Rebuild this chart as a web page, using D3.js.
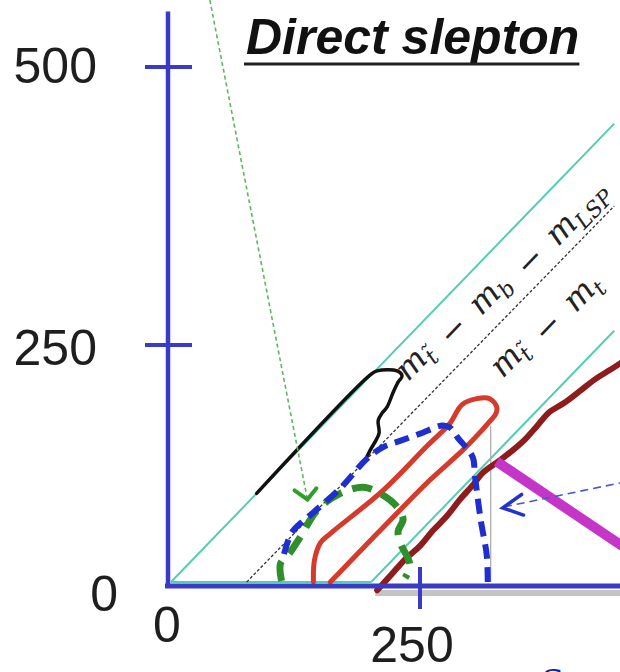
<!DOCTYPE html>
<html>
<head>
<meta charset="utf-8">
<script src="https://cdn.jsdelivr.net/npm/d3@7/dist/d3.min.js"></script>
<style>
  html, body { margin: 0; padding: 0; background: #fff; }
  svg { display: block; overflow: hidden; }
</style>
</head>
<body>
<svg id="chart" width="620" height="672"></svg>
<script>
// ---- axis ticks (stop mass on x, LSP mass on y, GeV) ----
const xTicks = [0, 250];
const yTicks = [0, 250, 500];
const xCrossTicks = [250];
const yCrossTicks = [250, 500];

// ---- kinematic boundaries ----
const edgeDegenerate = [[0, 0], [445, 445]];     // m_LSP = m_stop
const edgeFloor = [[0, 0], [201, 0]];
const edgeTop = [[201, 0], [445, 244]];          // lower cyan boundary
const edgeBW = [[76, 0], [445, 365]];            // dashed black boundary

// ---- exclusion contours ----
const blackContour = [[86, 86], [200, 201], [207, 205], [227, 205], [232, 200], [228, 194],
  [223, 184], [217, 170], [212, 164], [208, 157], [209, 145], [206, 138], [200, 128], [195, 118]];
const blueContour = [[318, 0], [317, 26], [311, 60], [305, 104], [303, 121], [288, 140],
  [280, 150], [273, 152], [250, 144], [230, 137], [213, 131], [197, 120], [170, 91],
  [140, 65], [122, 49], [114, 29], [112, 21]];
const greenContour = [[111, 1], [110, 18], [119, 28], [130, 44], [147, 70], [170, 86],
  [193, 92], [210, 86], [227, 73], [233, 61], [228, 49], [231, 36], [237, 25], [240, 15], [235, 4]];
const redContour = [[143, 0], [144, 21], [150, 38], [160, 47], [213, 89], [257, 132],
  [280, 154], [292, 172], [307, 178], [320, 178], [327, 170], [326, 163], [320, 156],
  [310, 145], [293, 128], [260, 99], [210, 50], [175, 15], [160, 0]];
const darkRedContour = [[207, -8], [222, 8], [235, 22], [250, 35], [263, 50], [277, 64],
  [290, 80], [303, 94], [313, 106], [330, 118], [342, 127], [355, 138], [368, 152],
  [380, 165], [395, 174], [410, 185], [426, 197], [441, 206], [460, 218]];
const magentaLine = [[327, 117], [456, 33]];
const grayMarker = [[321, 0], [321, 152]];

// ---- pointers ----
const greenPointer = [[39, 565], [137, 80]];
const greenHead = [[124, 89], [137, 80], [146, 91]];
const bluePointer = [[470, 100], [335, 73]];
const blueHead = [[352, 85], [333, 72], [354, 65]];

const title = "Direct slepton";

// ---- scales ----
const svg = d3.select("#chart");
const x = d3.scaleLinear().domain([0, 250]).range([171, 420]);
const y = d3.scaleLinear().domain([0, 500]).range([582, 67]);
// hand-placed tick positions on the vertical axis
const yAxisScale = d3.scaleLinear().domain([0, 250, 500]).range([585, 345, 67]);

const line = d3.line().x(d => x(d[0])).y(d => y(d[1]));
const smooth = d3.line().x(d => x(d[0])).y(d => y(d[1])).curve(d3.curveCatmullRom.alpha(0.5));

const axisBlue = "#3a3ac8";
const cyan = "#55cdb2";

// shadow under the horizontal axis
svg.append("rect")
  .attr("x", x(205)).attr("y", 590)
  .attr("width", 620 - x(205)).attr("height", 6)
  .attr("fill", "#c4c4c4");

// kinematic boundaries
[edgeDegenerate, edgeFloor, edgeTop].forEach(pts => {
  svg.append("path").attr("d", line(pts))
    .attr("fill", "none").attr("stroke", cyan).attr("stroke-width", 2);
});
svg.append("path").attr("d", line(edgeBW))
  .attr("fill", "none").attr("stroke", "#333").attr("stroke-width", 1.3)
  .attr("stroke-dasharray", "3,2");

// boundary labels (math), rotated along the diagonal
const angle = -Math.atan2(y(0) - y(100), x(100) - x(0)) * 180 / Math.PI;
function mathLabel(pos, parts) {
  const t = svg.append("text")
    .attr("transform", `translate(${x(pos[0])},${y(pos[1])}) rotate(${angle})`)
    .attr("font-family", "'DejaVu Serif', 'Liberation Serif', serif")
    .attr("font-size", 32).attr("fill", "#222");
  parts.forEach(p => {
    if (p.sub !== undefined) {
      t.append("tspan").attr("font-style", "italic").text("m");
      t.append("tspan").attr("font-size", 22).attr("font-style", "italic")
        .attr("dy", 7).text(p.sub);
      t.append("tspan").attr("dy", -7).text("");
    } else {
      t.append("tspan").text(p.op);
    }
  });
}
const minus = "\u2002\u2212\u2002";
mathLabel([238, 194], [{ sub: "t\u0303" }, { op: minus }, { sub: "b" }, { op: minus }, { sub: "LSP" }]);
mathLabel([333, 197], [{ sub: "t\u0303" }, { op: minus }, { sub: "t" }]);

// gray marker
svg.append("path").attr("d", line(grayMarker))
  .attr("fill", "none").attr("stroke", "#a8a8a8").attr("stroke-width", 1.2);

// contours
svg.append("path").attr("d", smooth(darkRedContour))
  .attr("fill", "none").attr("stroke", "#8e1c1c").attr("stroke-width", 6)
  .attr("stroke-linecap", "round").attr("stroke-linejoin", "round");
svg.append("path").attr("d", smooth(redContour))
  .attr("fill", "none").attr("stroke", "#d63a2a").attr("stroke-width", 5)
  .attr("stroke-linecap", "round").attr("stroke-linejoin", "round");
svg.append("path").attr("d", smooth(blackContour))
  .attr("fill", "none").attr("stroke", "#111").attr("stroke-width", 3.5)
  .attr("stroke-linecap", "round").attr("stroke-linejoin", "round");
svg.append("path").attr("d", smooth(greenContour))
  .attr("fill", "none").attr("stroke", "#2f8f2a").attr("stroke-width", 7)
  .attr("stroke-dasharray", "20,11");
svg.append("path").attr("d", smooth(blueContour))
  .attr("fill", "none").attr("stroke", "#1f2fcf").attr("stroke-width", 6)
  .attr("stroke-dasharray", "15,8");
svg.append("path").attr("d", line(magentaLine))
  .attr("fill", "none").attr("stroke", "#c435c8").attr("stroke-width", 10);

// pointers
svg.append("path").attr("d", line(greenPointer))
  .attr("fill", "none").attr("stroke", "#5cb85c").attr("stroke-width", 1.6)
  .attr("stroke-dasharray", "4,3");
svg.append("path").attr("d", line(greenHead))
  .attr("fill", "none").attr("stroke", "#2f9f2a").attr("stroke-width", 4)
  .attr("stroke-linecap", "round");
svg.append("path").attr("d", line(bluePointer))
  .attr("fill", "none").attr("stroke", "#4a55d0").attr("stroke-width", 1.6)
  .attr("stroke-dasharray", "8,5");
svg.append("path").attr("d", line(blueHead))
  .attr("fill", "none").attr("stroke", "#2432cc").attr("stroke-width", 3.5)
  .attr("stroke-linecap", "round");

// axes
svg.append("line")
  .attr("x1", x(0) - 3).attr("x2", x(0) - 3)
  .attr("y1", yAxisScale(550)).attr("y2", y(0) + 6)
  .attr("stroke", axisBlue).attr("stroke-width", 4.5);
svg.append("line")
  .attr("x1", x(0) - 6).attr("x2", 620)
  .attr("y1", y(0) + 4).attr("y2", y(0) + 4)
  .attr("stroke", axisBlue).attr("stroke-width", 5);

svg.selectAll("line.ytick").data(yCrossTicks).join("line")
  .attr("class", "ytick")
  .attr("x1", x(0) - 26).attr("x2", x(0) + 21)
  .attr("y1", d => yAxisScale(d)).attr("y2", d => yAxisScale(d))
  .attr("stroke", axisBlue).attr("stroke-width", 4);
svg.selectAll("line.xtick").data(xCrossTicks).join("line")
  .attr("class", "xtick")
  .attr("x1", d => x(d)).attr("x2", d => x(d))
  .attr("y1", y(0) - 15).attr("y2", y(0) + 27)
  .attr("stroke", axisBlue).attr("stroke-width", 4);

// tick labels (hand placement offsets)
const yLabelNudge = { 0: [21, 9], 250: [0, 3], 500: [0, -1] };
const xLabelNudge = { 0: [-4, 0], 250: [-8, 20] };
svg.selectAll("text.ylab").data(yTicks).join("text")
  .attr("class", "ylab")
  .attr("x", d => 97 + yLabelNudge[d][0])
  .attr("y", d => yAxisScale(d) + yLabelNudge[d][1])
  .attr("text-anchor", "end").attr("dominant-baseline", "central")
  .attr("font-family", "'Liberation Sans', Arial, sans-serif")
  .attr("font-size", 50).attr("fill", "#1e1e1e")
  .text(d => d);
svg.selectAll("text.xlab").data(xTicks).join("text")
  .attr("class", "xlab")
  .attr("x", d => x(d) + xLabelNudge[d][0])
  .attr("y", d => 625 + xLabelNudge[d][1])
  .attr("text-anchor", "middle").attr("dominant-baseline", "central")
  .attr("font-family", "'Liberation Sans', Arial, sans-serif")
  .attr("font-size", 50).attr("fill", "#1e1e1e")
  .text(d => d);

// title, underlined
const tt = svg.append("text")
  .attr("x", 246).attr("y", 54)
  .attr("font-family", "'Liberation Sans', Arial, sans-serif")
  .attr("font-weight", "bold").attr("font-style", "italic")
  .attr("font-size", 50).attr("fill", "#111")
  .text(title);
const tw = tt.node().getComputedTextLength();
svg.append("line")
  .attr("x1", 244).attr("x2", 246 + tw)
  .attr("y1", 64).attr("y2", 64)
  .attr("stroke", "#222").attr("stroke-width", 3);

// caption fragment at the lower edge
svg.append("text")
  .attr("x", 541).attr("y", 697)
  .attr("font-family", "'Liberation Serif', serif")
  .attr("font-size", 42).attr("fill", "#1c1ca6")
  .text("S");
</script>
</body>
</html>
